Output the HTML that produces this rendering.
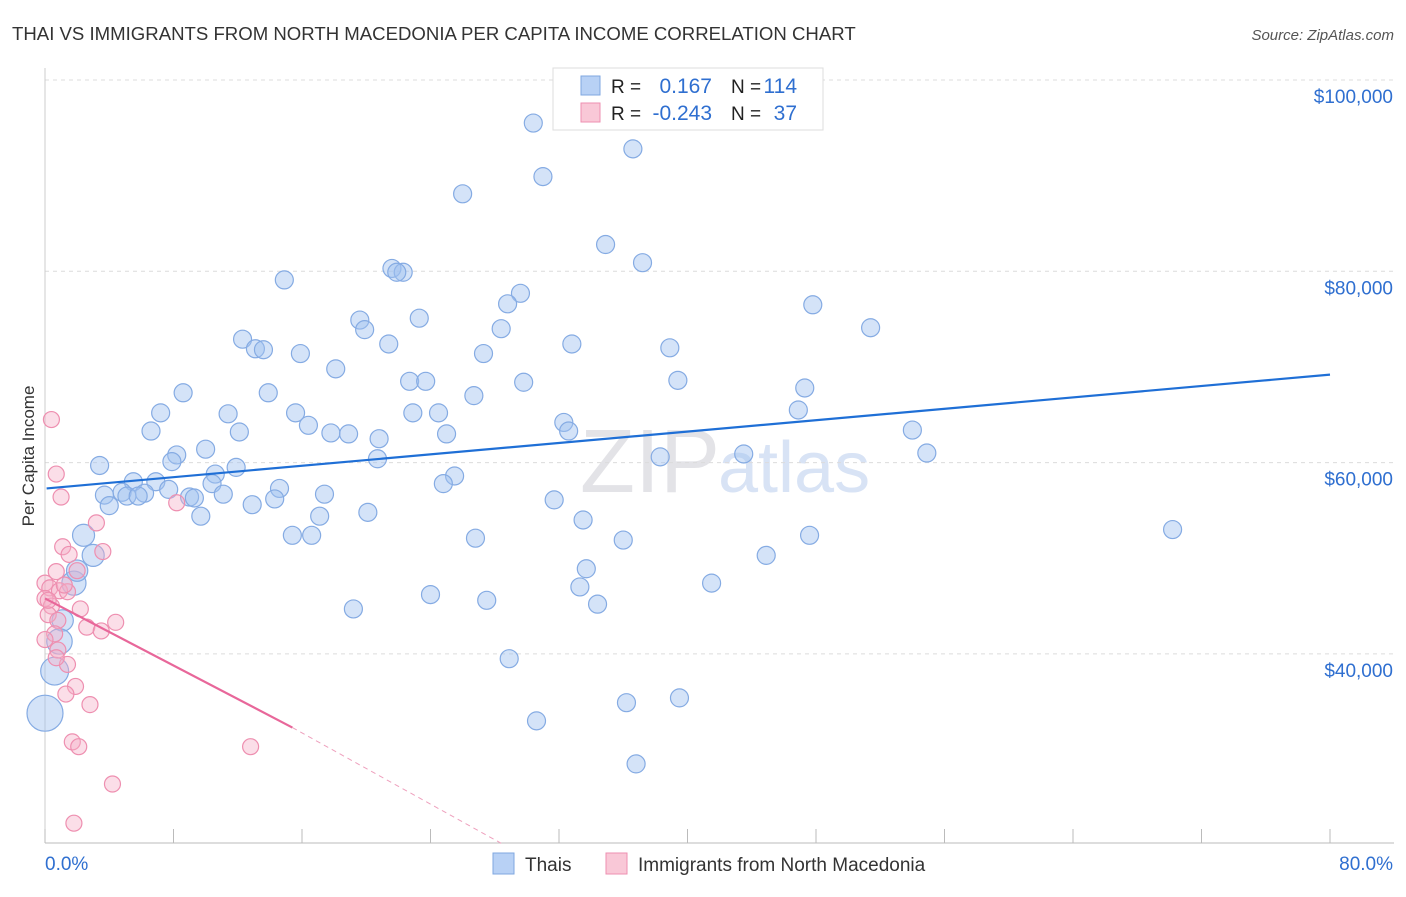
<!DOCTYPE html>
<html><head><meta charset="utf-8">
<style>
body{margin:0;background:#fff;font-family:"Liberation Sans",sans-serif;}
svg text{font-family:"Liberation Sans",sans-serif;}
</style></head>
<body>
<svg id="chart" width="1406" height="892">
<text x="12" y="40" font-size="18.6" fill="#333">THAI VS IMMIGRANTS FROM NORTH MACEDONIA PER CAPITA INCOME CORRELATION CHART</text>
<text x="1394" y="40" font-size="15" fill="#555" font-style="italic" text-anchor="end">Source: ZipAtlas.com</text>
<text x="34" y="456" font-size="17" fill="#333" text-anchor="middle" transform="rotate(-90 34 456)">Per Capita Income</text>
<text x="720" y="492" font-size="90" fill="#e3e3e7" text-anchor="end" font-family="Liberation Serif">ZIP</text>
<text x="718" y="492" font-size="72" fill="#d8e3f5">atlas</text>
<g id="grid"></g><g id="axes"></g><g id="marks"></g>
<g>
<rect x="553" y="68" width="270" height="62" fill="#fff" stroke="#ddd"/>
<rect x="581" y="76" width="19" height="19" fill="#b8d1f5" stroke="#7fa7e0"/>
<rect x="581" y="103" width="19" height="19" fill="#f9c8d7" stroke="#ee8fb0"/>
<text x="611" y="93" font-size="19" fill="#222">R = </text><text x="712" y="93" font-size="21" fill="#2f6fd0" text-anchor="end">0.167</text>
<text x="731" y="93" font-size="19" fill="#222">N = </text><text x="797" y="93" font-size="21" fill="#2f6fd0" text-anchor="end">114</text>
<text x="611" y="120" font-size="19" fill="#222">R = </text><text x="712" y="120" font-size="21" fill="#2f6fd0" text-anchor="end">-0.243</text>
<text x="731" y="120" font-size="19" fill="#222">N = </text><text x="797" y="120" font-size="21" fill="#2f6fd0" text-anchor="end">37</text>
</g>
<g>
<rect x="493" y="853" width="21" height="21" fill="#b8d1f5" stroke="#7fa7e0"/>
<text x="525" y="871" font-size="19" fill="#333">Thais</text>
<rect x="606" y="853" width="21" height="21" fill="#f9c8d7" stroke="#ee8fb0"/>
<text x="638" y="871" font-size="19" fill="#333">Immigrants from North Macedonia</text>
</g>
</svg>
<script>
const blueX=[30.4,36.6,31.0,26.0,34.9,37.2,21.6,22.3,21.9,14.9,29.6,28.8,47.8,19.6,23.3,19.9,28.4,51.4,12.3,13.1,13.6,21.4,32.8,38.9,15.9,27.3,18.1,22.7,23.7,29.8,39.4,47.3,8.6,13.9,26.7,7.2,11.4,15.6,22.9,24.5,46.9,16.4,32.3,6.6,12.1,17.8,18.9,25.0,32.6,54.0,10.0,20.8,8.2,38.3,43.5,54.9,7.9,20.7,3.4,11.9,10.6,25.5,24.8,5.5,6.9,10.4,4.8,6.2,7.7,9.0,14.6,3.7,5.1,5.8,9.3,11.1,17.4,14.3,31.7,4.0,12.9,9.7,20.1,17.1,33.5,70.2,15.4,16.6,2.4,26.8,47.6,36.0,3.0,44.9,33.7,1.8,41.5,33.3,24.0,27.5,34.4,19.2,1.1,0.9,28.9,0.6,36.2,39.5,30.6,36.8,0.0,2.0];
const blueY=[95.5,92.8,89.9,88.1,82.8,80.9,80.3,79.9,79.9,79.1,77.7,76.6,76.5,74.9,75.1,73.9,74.0,74.1,72.9,71.9,71.8,72.4,72.4,72.0,71.4,71.4,69.8,68.5,68.5,68.4,68.6,67.8,67.3,67.3,67.0,65.2,65.1,65.2,65.2,65.2,65.5,63.9,64.2,63.3,63.2,63.1,63.0,63.0,63.3,63.4,61.4,62.5,60.8,60.6,60.9,61.0,60.1,60.4,59.7,59.5,58.8,58.6,57.8,58.0,58.0,57.8,56.9,56.8,57.2,56.4,57.3,56.6,56.5,56.5,56.3,56.7,56.7,56.2,56.1,55.5,55.6,54.4,54.8,54.4,54.0,53.0,52.4,52.4,52.4,52.1,52.4,51.9,50.3,50.3,48.9,47.4,47.4,47.0,46.2,45.6,45.2,44.7,43.5,41.3,39.5,38.2,34.9,35.4,33.0,28.5,33.8,48.7];
const blueWeight=[1,1,1,1,1,1,1,1,1,1,1,1,1,1,1,1,1,1,1,1,1,1,1,1,1,1,1,1,1,1,1,1,1,1,1,1,1,1,1,1,1,1,1,1,1,1,1,1,1,1,1,1,1,1,1,1,1,1,1,1,1,1,1,1,1,1,1,1,1,1,1,1,1,1,1,1,1,1,1,1,1,1,1,1,1,1,1,1,1.5,1,1,1,1.5,1,1,1.8,1,1,1,1,1,1,1.4,2,1,2.4,1,1,1,1,4,1.4];
const pinkX=[0.4,0.7,1.0,3.2,1.1,1.5,3.6,0.7,2.0,0,0.3,0.9,1.4,0,0.4,2.2,0.2,0.8,4.4,2.6,3.5,0.6,1.4,0.8,1.9,1.3,2.8,1.7,2.1,12.8,4.2,1.8,8.2,0,0.2,1.2,0.7];
const pinkY=[64.5,58.8,56.4,53.7,51.2,50.4,50.7,48.6,48.7,47.4,46.9,46.6,46.5,45.8,45.0,44.7,44.1,43.5,43.3,42.8,42.4,42.1,38.9,40.4,36.6,35.8,34.7,30.8,30.3,30.3,26.4,22.3,55.8,41.5,45.6,47.2,39.6];
const blueTrend=[[0.1,57.3],[80,69.2]];
const pinkTrend=[[0,45.8],[15.4,32.3]];
const pinkTrendExt=[[15.4,32.3],[28.4,20.2]];
const yTicks=[100,80,60,40];
const yTickLabels=["$100,000","$80,000","$60,000","$40,000"];
const xTicks=[0,8,16,24,32,40,48,56,64,72,80];

const NS="http://www.w3.org/2000/svg";
const X=v=>45+v*16.0625;
const Y=v=>80+(100-v)*9.565;
function mk(tag,attrs,parent){const e=document.createElementNS(NS,tag);for(const k in attrs)e.setAttribute(k,attrs[k]);document.getElementById(parent).appendChild(e);return e;}
yTicks.forEach((t,i)=>{
 const l=mk('line',{x1:45,x2:1394,y1:Y(t),y2:Y(t),stroke:'#dcdcdc','stroke-dasharray':'4,4'},'grid');
 
 
 const tx=mk('text',{x:1393,y:Y(t)+23,'font-size':19,fill:'#2f6fd0','text-anchor':'end'},'axes');
 tx.textContent=yTickLabels[i];
 
 
});
const ax=mk('line',{x1:45,x2:1394,y1:843,y2:843,stroke:'#bbb'},'axes');


const ay=mk('line',{x1:45,x2:45,y1:68,y2:843,stroke:'#ccc'},'axes');


xTicks.forEach(t=>{
 const l=mk('line',{x1:X(t),x2:X(t),y1:829,y2:843,stroke:'#bbb'},'axes');
 
 
});
const xl0=mk('text',{x:45,y:870,'font-size':19,fill:'#2f6fd0'},'axes');xl0.textContent=xTicks[0].toFixed(1)+'%';


const xl1=mk('text',{x:1393,y:870,'font-size':19,fill:'#2f6fd0','text-anchor':'end'},'axes');xl1.textContent=xTicks[xTicks.length-1].toFixed(1)+'%';


blueX.forEach((v,i)=>{
 const c=mk('circle',{cx:X(v),cy:Y(blueY[i]),r:9*Math.sqrt(blueWeight[i]),fill:'rgba(160,192,240,0.45)',stroke:'#85abe3','stroke-width':1.2},'marks');
 
 
});
pinkX.forEach((v,i)=>{
 const c=mk('circle',{cx:X(v),cy:Y(pinkY[i]),r:8,fill:'rgba(246,172,198,0.4)',stroke:'#ee8fb0','stroke-width':1.2},'marks');
 
 
});
const bt=mk('line',{x1:X(blueTrend[0][0]),y1:Y(blueTrend[0][1]),x2:X(blueTrend[1][0]),y2:Y(blueTrend[1][1]),stroke:'#1f6fd6','stroke-width':2.2},'marks');


const pt=mk('line',{x1:X(pinkTrend[0][0]),y1:Y(pinkTrend[0][1]),x2:X(pinkTrend[1][0]),y2:Y(pinkTrend[1][1]),stroke:'#e8679a','stroke-width':2.2},'marks');


const pe=mk('line',{x1:X(pinkTrendExt[0][0]),y1:Y(pinkTrendExt[0][1]),x2:X(pinkTrendExt[1][0]),y2:Y(pinkTrendExt[1][1]),stroke:'#eea0bd','stroke-width':1,'stroke-dasharray':'5,4'},'marks');


</script>
</body></html>
